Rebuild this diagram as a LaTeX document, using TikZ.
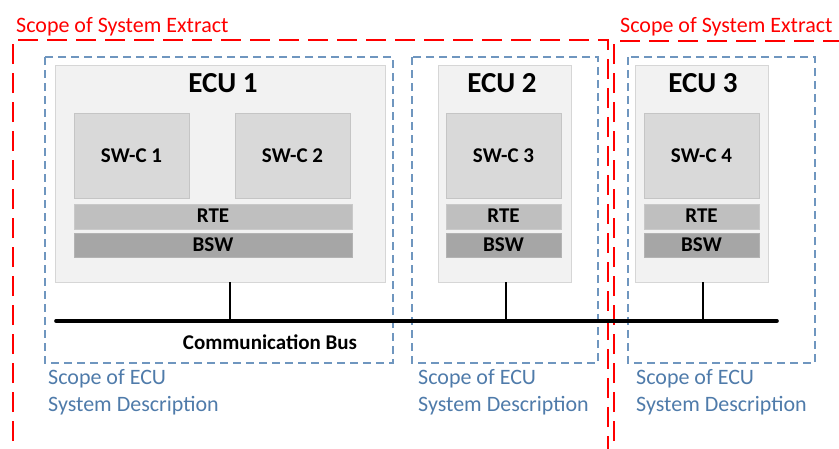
\documentclass[tikz,border=0pt]{standalone}
\usepackage{fontspec}
\setmainfont{Carlito}
\usetikzlibrary{positioning}
\definecolor{redx}{HTML}{FF0000}
\definecolor{bluedash}{HTML}{6F96BF}
\definecolor{bluetext}{HTML}{4F7BAA}
\definecolor{ecufill}{HTML}{F2F2F2}
\definecolor{ecudraw}{HTML}{D6D6D6}
\definecolor{swcfill}{HTML}{D9D9D9}
\definecolor{rtefill}{HTML}{BFBFBF}
\definecolor{bswfill}{HTML}{A6A6A6}
\tikzset{
  redscope/.style={draw=redx, line width=1.6pt, dash pattern=on 20pt off 9pt},
  bluescope/.style={draw=bluedash, line width=1.1pt, dash pattern=on 8pt off 5pt},
  ecubox/.style={draw=ecudraw, fill=ecufill, line width=0.8pt},
  swcbox/.style={draw=ecudraw!80!gray, fill=swcfill, line width=0.6pt},
  rtebox/.style={draw=rtefill!85!white, fill=rtefill, line width=0.6pt},
  bswbox/.style={draw=bswfill!85!white, fill=bswfill, line width=0.6pt},
  redlabel/.style={text=redx, font=\fontsize{22}{24}\selectfont, anchor=base west, inner sep=0pt},
  bluelabel/.style={text=bluetext, font=\fontsize{22}{27}\selectfont, anchor=base west, inner sep=0pt, align=left},
  ecutitle/.style={font=\bfseries\fontsize{29}{30}\selectfont, inner sep=0pt, anchor=base},
  layertext/.style={font=\bfseries\fontsize{21}{22}\selectfont, inner sep=0pt, anchor=base},
  busline/.style={line width=3.6pt, line cap=round},
  dropline/.style={line width=1.2pt},
}
\begin{document}
\begin{tikzpicture}[x=1pt,y=-1pt]
\useasboundingbox (0,0) rectangle (839,448);
% red system extract scopes
\draw[redscope] (13,470) -- (13,40) -- (608,40) -- (608,470);
\draw[redscope] (614,470) -- (614,41) -- (860,41);
\node[redlabel] (se1) at (16,32) {Scope of System Extract};
\node[redlabel] (se2) at (620,32) {Scope of System Extract};
% blue ECU scopes
\draw[bluescope] (45,57) rectangle (393,363);
\draw[bluescope] (412,57) rectangle (598,363);
\draw[bluescope] (628,57) rectangle (815,363);
\node[bluelabel] (d1) at (48,411) {Scope of ECU\\System Description};
\node[bluelabel] (d2) at (418,411) {Scope of ECU\\System Description};
\node[bluelabel] (d3) at (636,411) {Scope of ECU\\System Description};
% ECU boxes
\path[ecubox] (55,65) rectangle (385,282);
\path[ecubox] (438,65) rectangle (571,282);
\path[ecubox] (635,65) rectangle (768,282);
\node[ecutitle] (e1) at (223,92) {ECU 1};
\node[ecutitle] (e2) at (502,92) {ECU 2};
\node[ecutitle] (e3) at (703,92) {ECU 3};
% SW-Cs
\path[swcbox] (74,113) rectangle (189,198);
\path[swcbox] (235,113) rectangle (350,198);
\path[swcbox] (446,113) rectangle (561,198);
\path[swcbox] (644,113) rectangle (759,198);
\node[layertext] (s1) at (131.5,162) {SW-C 1};
\node[layertext] (s2) at (292.5,162) {SW-C 2};
\node[layertext] (s3) at (503.5,162) {SW-C 3};
\node[layertext] (s4) at (701.5,162) {SW-C 4};
% RTE / BSW
\path[rtebox] (74,204) rectangle (352,229);
\path[rtebox] (446,204) rectangle (561,229);
\path[rtebox] (644,204) rectangle (759,229);
\path[bswbox] (74,233) rectangle (352,257);
\path[bswbox] (446,233) rectangle (561,257);
\path[bswbox] (644,233) rectangle (759,257);
\node[layertext] (r1) at (213,222) {RTE};
\node[layertext] (r2) at (503.5,222) {RTE};
\node[layertext] (r3) at (701.5,222) {RTE};
\node[layertext] (b1) at (213,251.5) {BSW};
\node[layertext] (b2) at (503.5,251.5) {BSW};
\node[layertext] (b3) at (701.5,251.5) {BSW};
% bus
\coordinate (busL) at (56,321);
\coordinate (busR) at (777,321);
\draw[busline] (busL) -- (busR);
\coordinate (t1) at (230,282);
\coordinate (t2) at (506,282);
\coordinate (t3) at (703,282);
\draw[dropline] (t1) -- (230,321);
\draw[dropline] (t2) -- (506,321);
\draw[dropline] (t3) -- (703,321);
\node[layertext] (bus) at (270,349) {Communication Bus};
\end{tikzpicture}
\end{document}
